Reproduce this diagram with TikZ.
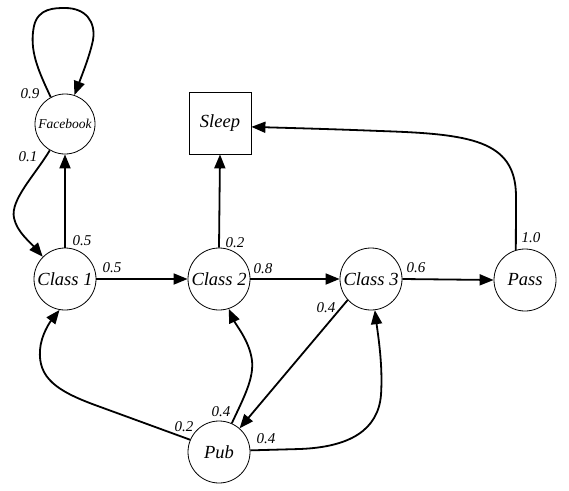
\documentclass[tikz,border=0pt]{standalone}
\usepackage{fontspec}
\setmainfont{Liberation Serif}
\usetikzlibrary{arrows.meta}
\begin{document}
\begin{tikzpicture}[x=1pt,y=-1pt,
  state/.style={circle,draw,line width=0.8pt,minimum size=62pt,inner sep=0pt,font=\fontsize{18.5}{20}\selectfont\itshape},
  box/.style={rectangle,draw,line width=0.8pt,minimum size=62pt,inner sep=0pt,font=\fontsize{18.5}{20}\selectfont\itshape},
  edge/.style={line width=1.8pt,line join=round,-{Triangle[length=14pt,width=11pt]}},
  lbl/.style={font=\fontsize{15}{16}\selectfont\itshape,inner sep=0pt}]
\useasboundingbox (0,0) rectangle (569,490);
% nodes
\node[state,minimum size=60pt,font=\fontsize{13.5}{15}\selectfont\itshape] (fb) at (65,124) {Facebook};
\node[state] (c1) at (65,279) {Class 1};
\node[state] (c2) at (219,279) {Class 2};
\node[state] (c3) at (371,279) {Class 3};
\node[state] (pass) at (525,280) {Pass};
\node[box] (sleep) at (220,123) {Sleep};
\node[state] (pub) at (219,452) {Pub};
% straight edges
\draw[edge] (c1.north) -- (fb.south);
\draw[edge] (c1.east) -- (c2.west);
\draw[edge] (c2.north) -- (sleep.south);
\draw[edge] (c2.east) -- (c3.west);
\draw[edge] (c3.east) -- (pass.west);
\draw[edge] (c3.222) -- (pub.49);
% curved edges
\draw[edge] (fb.118) .. controls (38,70) and (29,50) .. (34,26)
  .. controls (38,8) and (55,8) .. (65,8)
  .. controls (86,8) and (96,22) .. (93,40)
  .. controls (90,55) and (82,75) .. (fb.72);
\draw[edge] (fb.240) .. controls (35,175) and (10,200) .. (14,218)
  .. controls (17,232) and (30,242) .. (c1.135);
\draw[edge] (pass.107) -- (516,195) .. controls (515,140) and (470,134) .. (380,131)
  .. controls (330,129) and (290,128) .. (sleep.-7);
\draw[edge] (pub.157) -- (95,405) .. controls (57,391) and (38,378) .. (40,350)
  .. controls (41,335) and (50,322) .. (c1.260);
\draw[edge] (pub.66) .. controls (245,395) and (256,375) .. (251,355)
  .. controls (247,338) and (236,325) .. (c2.288);
\draw[edge] (pub.3) -- (300,449) .. controls (350,447) and (378,430) .. (381,395)
  .. controls (383,365) and (378,335) .. (c3.277);
% labels
\node[lbl] (l1) at (30,94) {0.9};
\node[lbl] (l2) at (28,157) {0.1};
\node[lbl] (l3) at (82,241) {0.5};
\node[lbl] (l4) at (112,268) {0.5};
\node[lbl] (l5) at (235,243) {0.2};
\node[lbl] (l6) at (263,269) {0.8};
\node[lbl] (l7) at (416,268) {0.6};
\node[lbl] (l8) at (531,238) {1.0};
\node[lbl] (l9) at (326,308) {0.4};
\node[lbl] (l10) at (184,427) {0.2};
\node[lbl] (l11) at (221,412) {0.4};
\node[lbl] (l12) at (266,439) {0.4};
\end{tikzpicture}
\end{document}
